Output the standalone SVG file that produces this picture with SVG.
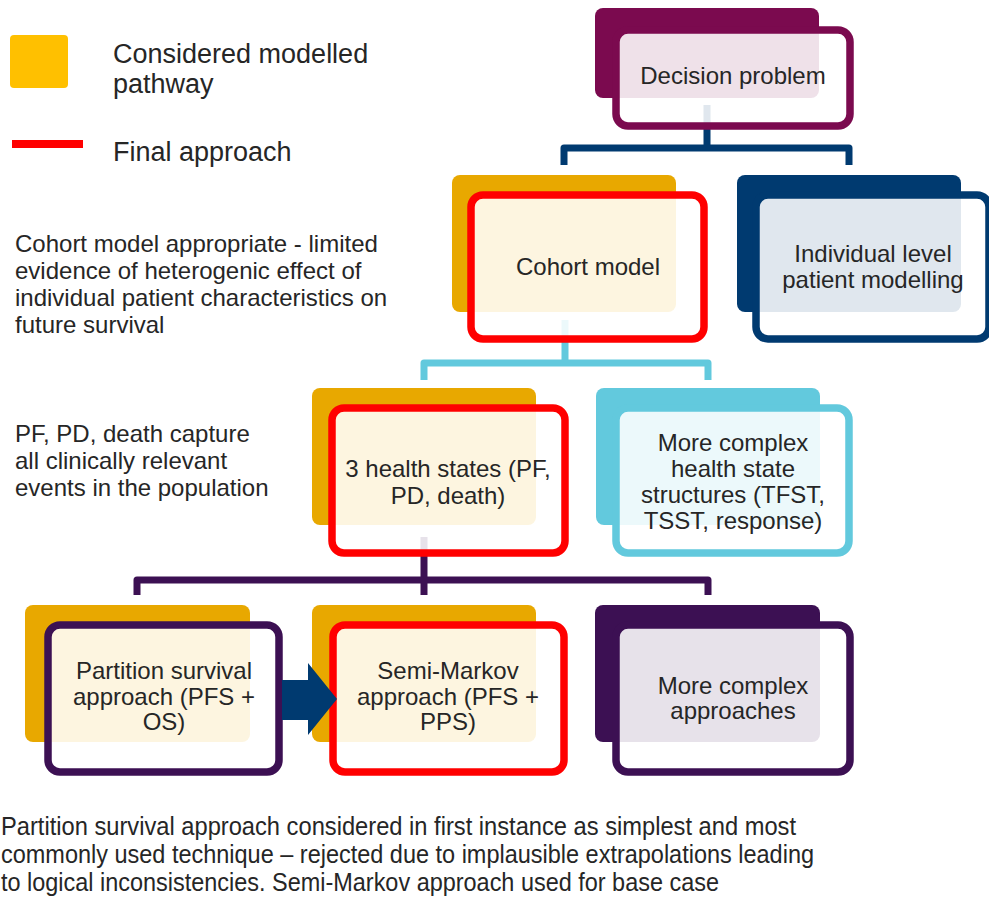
<svg xmlns="http://www.w3.org/2000/svg" width="989" height="900" viewBox="0 0 989 900">
<style>
  text { font-family: "Liberation Sans", Arial, sans-serif; fill: #262626; }
  .lbl { font-size: 24px; text-anchor: middle; }
  .note { font-size: 24px; }
  .leg { font-size: 27px; }
  .foot { font-size: 25px; }
  .front { fill: #ffffff; fill-opacity: 0.88; stroke-width: 7.5; }
  .conn { fill: none; stroke-width: 7; stroke-linejoin: round; }
</style>
<rect width="989" height="900" fill="#ffffff"/>

<g id="legend">
  <rect x="10" y="35" width="58" height="53" rx="4" fill="#FFC000"/>
  <text class="leg" x="113" y="63">Considered modelled</text>
  <text class="leg" x="113" y="93">pathway</text>
  <rect x="12" y="140" width="71" height="8" fill="#FF0000"/>
  <text class="leg" x="113" y="161">Final approach</text>
</g>

<g id="notes">
  <text class="note" x="15" y="252">Cohort model appropriate - limited</text>
  <text class="note" x="15" y="279">evidence of heterogenic effect of</text>
  <text class="note" x="15" y="306">individual patient characteristics on</text>
  <text class="note" x="15" y="333">future survival</text>
  <text class="note" x="15" y="442">PF, PD, death capture</text>
  <text class="note" x="15" y="469">all clinically relevant</text>
  <text class="note" x="15" y="496">events in the population</text>
</g>

<g id="connectors">
  <path class="conn" stroke="#003A70" d="M707,105 V148 M564,165 V148 H849 V165"/>
  <path class="conn" stroke="#62C9DD" d="M565,320 V363 M424,380 V363 H708 V380"/>
  <path class="conn" stroke="#3C1053" d="M424,537 V580 M137,595 V580 H708 V595 M424,580 V595"/>
</g>

<g id="decision">
  <rect x="595" y="8" width="224" height="90" rx="8" fill="#7B0A4F"/>
  <rect class="front" x="616" y="30" width="234" height="96" rx="12" stroke="#7B0A4F"/>
  <text class="lbl" x="733" y="84">Decision problem</text>
</g>

<g id="cohort">
  <rect x="452" y="175" width="224" height="137" rx="8" fill="#E8A800"/>
  <rect class="front" x="471" y="195" width="233" height="144" rx="12" stroke="#FF0000"/>
  <text class="lbl" x="588" y="275">Cohort model</text>
</g>

<g id="individual">
  <rect x="737" y="175" width="224" height="137" rx="8" fill="#003A70"/>
  <rect class="front" x="756" y="195" width="233" height="144" rx="12" stroke="#003A70"/>
  <text class="lbl" x="873" y="262">Individual level</text>
  <text class="lbl" x="873" y="288">patient modelling</text>
</g>

<g id="health-states">
  <rect x="312" y="388" width="224" height="137" rx="8" fill="#E8A800"/>
  <rect class="front" x="332" y="408" width="233" height="145" rx="12" stroke="#FF0000"/>
  <text class="lbl" x="448" y="477">3 health states (PF,</text>
  <text class="lbl" x="448" y="504">PD, death)</text>
</g>

<g id="complex-structures">
  <rect x="596" y="388" width="224" height="137" rx="8" fill="#62C9DD"/>
  <rect class="front" x="616" y="408" width="233" height="145" rx="12" stroke="#62C9DD"/>
  <text class="lbl" x="733" y="451">More complex</text>
  <text class="lbl" x="733" y="477">health state</text>
  <text class="lbl" x="733" y="503">structures (TFST,</text>
  <text class="lbl" x="733" y="529">TSST, response)</text>
</g>

<g id="partition">
  <rect x="25" y="605" width="225" height="137" rx="8" fill="#E8A800"/>
  <rect class="front" x="48" y="625" width="231" height="147" rx="12" stroke="#3C1053"/>
  <text class="lbl" x="164" y="679">Partition survival</text>
  <text class="lbl" x="164" y="705">approach (PFS +</text>
  <text class="lbl" x="164" y="730">OS)</text>
</g>

<g id="semi-markov">
  <rect x="312" y="605" width="224" height="137" rx="8" fill="#E8A800"/>
  <rect class="front" x="333" y="625" width="231" height="147" rx="12" stroke="#FF0000"/>
  <text class="lbl" x="448" y="679">Semi-Markov</text>
  <text class="lbl" x="448" y="705">approach (PFS +</text>
  <text class="lbl" x="448" y="730">PPS)</text>
</g>

<g id="complex-approaches">
  <rect x="595" y="605" width="225" height="137" rx="8" fill="#3C1053"/>
  <rect class="front" x="616" y="625" width="234" height="147" rx="12" stroke="#3C1053"/>
  <text class="lbl" x="733" y="694">More complex</text>
  <text class="lbl" x="733" y="719">approaches</text>
</g>

<g id="arrow">
  <path d="M282,680 H308 V663 L337,699 L308,735 V720 H282 Z" fill="#003A70"/>
</g>

<g id="footnote">
  <text class="foot" x="1" y="835" textLength="795" lengthAdjust="spacingAndGlyphs">Partition survival approach considered in first instance as simplest and most</text>
  <text class="foot" x="1" y="863" textLength="813" lengthAdjust="spacingAndGlyphs">commonly used technique – rejected due to implausible extrapolations leading</text>
  <text class="foot" x="1" y="891" textLength="718" lengthAdjust="spacingAndGlyphs">to logical inconsistencies. Semi-Markov approach used for base case</text>
</g>
</svg>
